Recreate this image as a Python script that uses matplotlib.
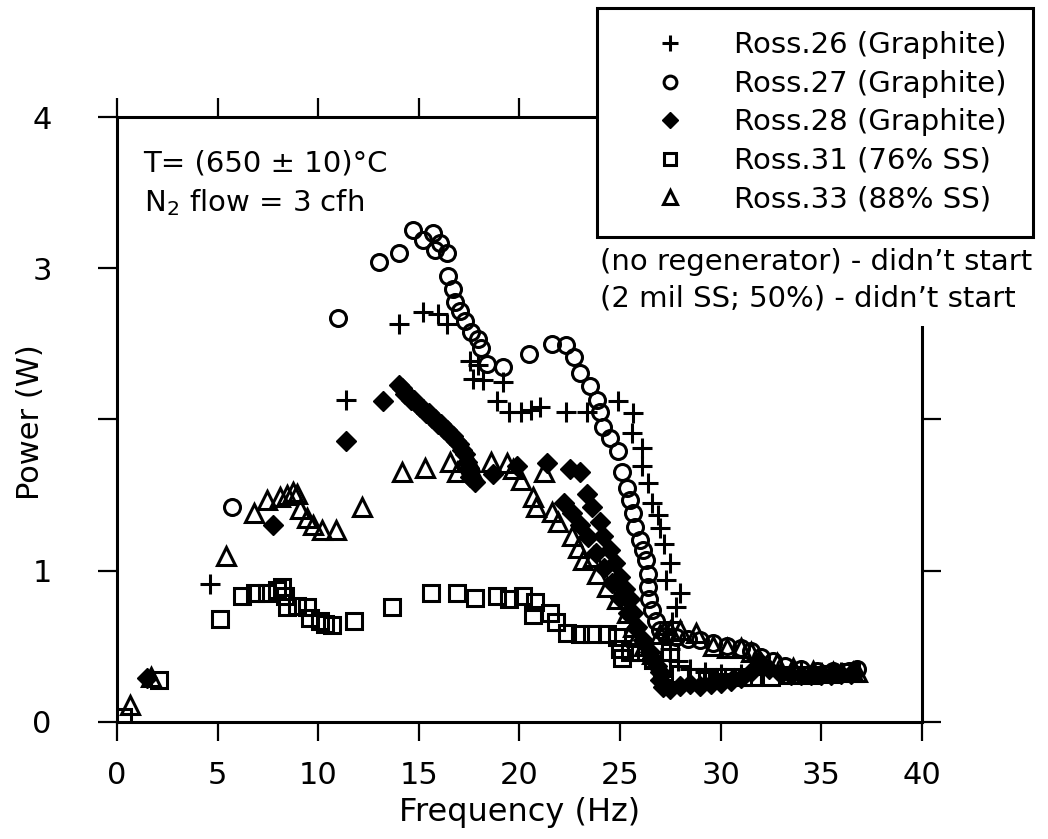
import matplotlib
matplotlib.use("Agg")
import matplotlib.pyplot as plt
from matplotlib.patches import Rectangle

plt.rcParams['font.family'] = ['DejaVu Sans']

# Ross.26 (Graphite)  -- plus
f26 = [4.6, 11.4, 14.0, 15.2, 15.95, 16.4, 17.55, 17.7, 17.95, 18.2, 19.2, 18.9, 19.5, 20.1, 20.6,
       21.0, 22.3, 23.35, 24.9, 25.65, 25.6, 26.1, 26.1, 26.4, 26.6, 26.9, 27.0, 27.2, 27.5, 27.3,
       28.0, 27.8, 27.6, 27.3, 27.5, 27.9, 28.5, 29.2, 30.0, 31.0, 32.0, 33.0, 34.0, 35.0, 36.0]
p26 = [0.91, 2.13, 2.63, 2.71, 2.70, 2.63, 2.39, 2.27, 2.36, 2.26, 2.25, 2.12, 2.05, 2.05, 2.06,
       2.08, 2.05, 2.05, 2.12, 2.04, 1.91, 1.81, 1.69, 1.58, 1.45, 1.37, 1.28, 1.18, 1.05, 0.94,
       0.85, 0.76, 0.66, 0.58, 0.48, 0.40, 0.35, 0.33, 0.32, 0.32, 0.32, 0.32, 0.33, 0.33, 0.33]

# Ross.27 (Graphite)  -- open circle
f27 = [5.7, 11.0, 13.0, 14.0, 14.7, 15.2, 15.7, 15.8, 16.05, 16.4, 16.45, 16.7, 16.8, 17.05, 17.3,
       17.6, 17.95, 18.1, 18.4, 19.2, 20.5, 21.6, 22.3, 22.7, 23.0, 23.5, 23.85, 24.0, 24.15, 24.5,
       24.9, 25.1, 25.35, 25.5, 25.65, 25.75, 26.0, 26.15, 26.3, 26.4, 26.4, 26.45, 26.6, 26.8, 27.0,
       27.3, 27.8, 28.4, 29.0, 29.6, 30.3, 31.0, 31.5, 32.0, 32.6, 33.2, 34.0, 34.8, 35.6, 36.4, 36.8]
p27 = [1.42, 2.67, 3.04, 3.10, 3.25, 3.19, 3.23, 3.12, 3.17, 3.10, 2.95, 2.86, 2.78, 2.72, 2.65,
       2.58, 2.53, 2.47, 2.37, 2.35, 2.43, 2.50, 2.49, 2.41, 2.31, 2.22, 2.13, 2.05, 1.95, 1.88,
       1.79, 1.65, 1.55, 1.47, 1.38, 1.29, 1.20, 1.14, 1.07, 0.98, 0.89, 0.81, 0.74, 0.67, 0.61,
       0.57, 0.56, 0.55, 0.54, 0.52, 0.50, 0.49, 0.47, 0.43, 0.40, 0.37, 0.35, 0.34, 0.34, 0.34, 0.35]

# Ross.28 (Graphite)  -- filled diamond
f28 = [1.5, 7.75, 11.4, 13.2, 14.0, 14.15, 14.3, 14.45, 14.6, 14.75, 14.9, 15.05, 15.2, 15.35,
       15.5, 15.65, 15.8, 15.95, 16.1, 16.25, 16.4, 16.55, 16.7, 16.85, 17.0, 17.15, 17.3, 17.4,
       17.5, 17.55, 17.8, 18.7, 19.9, 21.35, 22.5, 23.0, 23.35, 23.6, 24.0, 24.15, 24.5, 24.75,
       25.0, 25.25, 25.5, 25.65, 25.85, 26.15, 26.5, 26.85, 27.0, 27.15, 27.5, 28.0, 28.5, 29.0, 29.5,
       30.0, 30.5, 31.0, 31.5, 31.9, 32.4, 33.0, 33.5, 34.0, 34.5, 35.0, 35.5, 36.0, 36.5,
       22.2, 22.6, 23.0, 23.4, 23.8, 24.2, 24.6, 25.0, 25.4, 25.8, 26.2, 26.6, 27.0]
p28 = [0.29, 1.30, 1.86, 2.12, 2.23, 2.21, 2.17, 2.16, 2.13, 2.13, 2.10, 2.08, 2.07, 2.04,
       2.04, 2.01, 2.00, 1.97, 1.97, 1.94, 1.93, 1.90, 1.89, 1.86, 1.84, 1.80, 1.77, 1.72,
       1.68, 1.62, 1.59, 1.64, 1.69, 1.71, 1.67, 1.65, 1.51, 1.42, 1.32, 1.23, 1.14, 1.05,
       0.96, 0.88, 0.81, 0.72, 0.63, 0.54, 0.46, 0.37, 0.28, 0.23, 0.22, 0.24, 0.25, 0.24, 0.25,
       0.26, 0.27, 0.29, 0.33, 0.40, 0.35, 0.32, 0.31, 0.31, 0.31, 0.31, 0.31, 0.32, 0.32,
       1.45, 1.38, 1.30, 1.22, 1.12, 1.02, 0.92, 0.82, 0.72, 0.62, 0.52, 0.42, 0.33]

# Ross.31 (76% SS)  -- open square
f31 = [0.3, 2.1, 5.1, 6.2, 6.85, 7.45, 7.95, 8.2, 8.35, 8.45, 8.95, 9.45, 9.6, 10.1, 10.35,
       10.7, 11.8, 13.65, 15.6, 16.9, 17.8, 18.9, 19.5, 20.2, 20.8, 20.7, 21.5, 21.8, 22.35, 23.0,
       23.6, 24.35, 24.85, 25.0, 25.1, 25.5, 26.0, 26.65, 27.5, 27.1, 28.0, 28.8, 29.3, 29.8, 30.2,
       31.1, 31.6, 32.5, 33.5, 34.5, 35.5, 36.5]
p31 = [0.03, 0.28, 0.68, 0.83, 0.85, 0.85, 0.87, 0.89, 0.83, 0.76, 0.77, 0.76, 0.69, 0.67, 0.65,
       0.64, 0.67, 0.76, 0.85, 0.85, 0.82, 0.83, 0.81, 0.83, 0.79, 0.71, 0.72, 0.66, 0.59, 0.58,
       0.58, 0.58, 0.56, 0.48, 0.42, 0.46, 0.46, 0.41, 0.46, 0.36, 0.32, 0.30, 0.30, 0.30, 0.30,
       0.30, 0.30, 0.30, 0.31, 0.31, 0.32, 0.33]

# Ross.33 (88% SS)  -- open triangle
f33 = [0.65, 1.7, 5.4, 6.8, 7.45, 8.1, 8.45, 8.75, 8.95, 9.1, 9.45, 9.75, 10.2, 10.9, 12.2,
       14.15, 15.3, 16.55, 16.9, 17.55, 17.7, 18.6, 19.4, 19.7, 20.1, 20.7, 20.85, 21.2, 21.6, 21.9,
       22.6, 22.9, 23.15, 23.65, 23.85, 24.35, 24.85, 25.35, 25.65, 25.85, 26.2, 26.6, 27.0, 27.5, 28.0,
       28.8, 29.6, 30.3, 31.0, 31.5, 32.0, 32.8, 33.6, 34.6, 35.6, 36.6, 36.8]
p33 = [0.11, 0.30, 1.10, 1.38, 1.47, 1.49, 1.50, 1.52, 1.51, 1.41, 1.35, 1.30, 1.27, 1.27, 1.42,
       1.65, 1.68, 1.72, 1.65, 1.72, 1.65, 1.72, 1.71, 1.67, 1.60, 1.49, 1.42, 1.65, 1.39, 1.32,
       1.23, 1.15, 1.07, 1.09, 0.98, 0.89, 0.81, 0.72, 0.63, 0.56, 0.50, 0.45, 0.58, 0.60, 0.61,
       0.59, 0.50, 0.49, 0.49, 0.46, 0.39, 0.39, 0.36, 0.34, 0.33, 0.33, 0.33]

labels = ['Ross.26 (Graphite)', 'Ross.27 (Graphite)', 'Ross.28 (Graphite)',
          'Ross.31 (76% SS)', 'Ross.33 (88% SS)']
ytick_labels = ['0', '1', '', '3', '4']

fig = plt.figure(figsize=(10.48, 8.39), dpi=100)
ax = fig.add_axes([0.1116, 0.1395, 0.768, 0.721])

ax.plot(f26, p26, ls='none', marker='+', ms=14, mew=2.2, color='black', label=labels[0])
ax.plot(f27, p27, ls='none', marker='o', ms=11.5, mew=2.2, mfc='none', mec='black', label=labels[1])
ax.plot(f28, p28, ls='none', marker='D', ms=10, mew=1.0, mfc='black', mec='black', label=labels[2])
ax.plot(f31, p31, ls='none', marker='s', ms=11, mew=2.2, mfc='none', mec='black', label=labels[3])
ax.plot(f33, p33, ls='none', marker='^', ms=12.5, mew=2.2, mfc='none', mec='black', label=labels[4])

ax.set_xlim(0, 40)
ax.set_ylim(0, 4)
ax.set_xticks(range(0, 41, 5))
ax.set_yticks(range(0, 5))
ax.set_yticklabels(ytick_labels)
for s in ax.spines.values():
    s.set_linewidth(2.2)
ax.tick_params(which='both', direction='out', length=14, width=1.6,
               top=True, right=True, labelsize=22)
ax.tick_params(axis='x', pad=14)
ax.tick_params(axis='y', pad=33)

ax.set_xlabel('Frequency (Hz)', fontsize=23)
ax.xaxis.set_label_coords(0.5, -0.15)
ax.xaxis.label.set_va('center')
ax.set_ylabel('Power (W)', fontsize=22)
ax.yaxis.set_label_coords(-0.108, 0.496)
ax.yaxis.label.set_va('center')

ax.text(0.033, 0.924, 'T= (650 ± 10)°C', transform=ax.transAxes, fontsize=21, va='center')
ax.text(0.033, 0.858, 'N$_2$ flow = 3 cfh', transform=ax.transAxes, fontsize=21, va='center')

# white patch hiding the right spine under the notes
fig.add_artist(Rectangle((590 / 1048, 1 - 326 / 839), 455 / 1048, 110 / 839,
                         transform=fig.transFigure, facecolor='white', edgecolor='none', zorder=5))

h, l = ax.get_legend_handles_labels()
leg = fig.legend(h, l, loc='upper left', bbox_to_anchor=(597 / 1048, 1 - 8 / 839, 436 / 1048, 0),
                 mode='expand', fontsize=21, frameon=True, fancybox=False, edgecolor='black',
                 framealpha=1, facecolor='white',
                 borderpad=0.8, handlelength=3.4, handletextpad=0.5, labelspacing=0.36,
                 markerscale=0.8, borderaxespad=0)
leg.get_frame().set_linewidth(2.2)
leg.set_zorder(6)

fig.text(600 / 1048, 1 - 262 / 839, '(no regenerator) - didn’t start', fontsize=21,
         va='center', ha='left', zorder=7)
fig.text(600 / 1048, 1 - 298 / 839, '(2 mil SS; 50%) - didn’t start', fontsize=21,
         va='center', ha='left', zorder=7)

fig.savefig('out.png', dpi=100)
